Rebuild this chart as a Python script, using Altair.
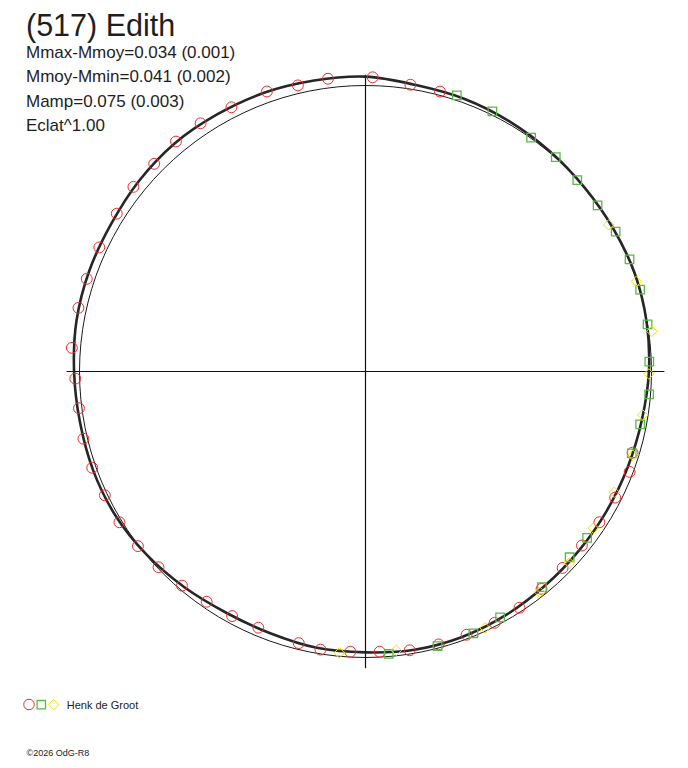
import altair as alt
import pandas as pd

# ---------------- data ----------------
# polar lightcurve: phase angle (deg, clockwise from top) and radius relative to reference circle
curve_phase = [0, 10, 20, 30, 40, 50, 60, 70, 80, 90, 100, 110, 120, 130, 140, 150, 160, 170,
               180, 190, 200, 210, 220, 230, 240, 250, 260, 270, 280, 290, 300, 310, 320, 330, 340, 350]
curve_rel = [1.031, 1.017, 1.014, 1.009, 1.004, 1.000, 1.000, 1.002, 0.998, 0.991, 0.981, 0.976,
             0.974, 0.974, 0.977, 0.983, 0.988, 0.988, 0.982, 0.981, 0.974, 0.974, 0.985, 0.998,
             1.009, 1.013, 1.014, 1.019, 1.026, 1.028, 1.028, 1.035, 1.040, 1.038, 1.037, 1.033]

red_phase = [1.4, 8.9, 14.9, 352.7, 346.7, 340.6, 333.1, 326.4, 320.5, 314.5, 308.5, 302.4, 295.0,
             288.4, 282.5, 274.6, 268.6, 262.7, 256.6, 250.6, 244.6, 238.5, 232.5, 226.6, 220.6,
             214.6, 208.6, 202.7, 193.8, 189.2, 183.1, 177.1, 171.0, 165.0, 159.0, 152.8, 146.9,
             141.0, 134.9, 128.8, 122.8, 116.8, 110.8, 106.9]
red_rel = [1.029, 1.015, 1.013, 1.032, 1.028, 1.038, 1.036, 1.042, 1.042, 1.036, 1.037, 1.030, 1.027,
           1.027, 1.028, 1.030, 1.015, 1.010, 1.014, 1.013, 1.009, 1.009, 1.003, 0.996, 0.986,
           0.978, 0.974, 0.971, 0.978, 0.985, 0.981, 0.981, 0.987, 0.988, 0.986, 0.988, 0.986,
           0.978, 0.973, 0.971, 0.973, 0.978, 0.988, 0.976]

green_phase = [18.3, 26.0, 35.3, 41.6, 47.9, 54.4, 60.8, 67.0, 73.4, 80.5, 88.0, 94.6, 100.9,
               107.1, 126.9, 132.3, 140.7, 151.3, 157.6, 165.3, 175.3]
green_rel = [1.017, 1.012, 1.002, 1.002, 0.998, 0.998, 1.002, 1.003, 1.002, 1.000, 0.993, 0.995,
             0.978, 0.974, 0.969, 0.965, 0.974, 0.980, 0.990, 0.993, 0.991]

yellow_phase = [58.9, 71.6, 82.0, 90.5, 98.9, 107.4, 115.9, 124.5, 133.2, 141.7, 155.0, 173.7, 185.3]
yellow_rel = [0.993, 0.998, 1.011, 0.991, 0.981, 0.980, 0.967, 0.967, 0.978, 0.983, 0.989, 0.981, 0.988]

axis_h_x = [-1.045, 1.045]
axis_v_y = [-1.038, 1.038]

title_text = "(517) Edith"
stats_lines = ["Mmax-Mmoy=0.034 (0.001)", "Mmoy-Mmin=0.041 (0.002)", "Mamp=0.075 (0.003)", "Eclat^1.00"]
observer = "Henk de Groot"
copyright_text = "©2026 OdG-R8"

# ---------------- layout ----------------
W, H = 660, 750
R_PX = 286.0          # reference circle radius in px
CX, CY = 357.5, 363.5  # centre in plot coordinates
xs = alt.Scale(domain=[-CX / R_PX, (W - CX) / R_PX], nice=False, zero=False)
ys = alt.Scale(domain=[-(H - CY) / R_PX, CY / R_PX], nice=False, zero=False)

RED, GREEN, YELLOW = "#ee2b2b", "#58b848", "#f2e000"
FONT = "Liberation Sans"


def polar(df):
    return (alt.Chart(df)
            .transform_calculate(px="datum.r * sin(datum.phase * PI / 180)",
                                 py="datum.r * cos(datum.phase * PI / 180)"))


def enc(ch, **kw):
    return ch.encode(x=alt.X("px:Q", scale=xs, axis=None),
                     y=alt.Y("py:Q", scale=ys, axis=None), **kw)


curve_df = pd.DataFrame({"phase": curve_phase, "r": curve_rel})
red_df = pd.DataFrame({"phase": red_phase, "r": red_rel})
green_df = pd.DataFrame({"phase": green_phase, "r": green_rel})
yellow_df = pd.DataFrame({"phase": yellow_phase, "r": yellow_rel})

hline = alt.Chart(pd.DataFrame({"x": axis_h_x, "y": [0.0, 0.0]})).mark_line(
    color="#111", strokeWidth=1.2).encode(
    x=alt.X("x:Q", scale=xs, axis=None), y=alt.Y("y:Q", scale=ys, axis=None))
vline = alt.Chart(pd.DataFrame({"x": [0.0, 0.0], "y": axis_v_y})).mark_line(
    color="#111", strokeWidth=1.2).encode(
    x=alt.X("x:Q", scale=xs, axis=None), y=alt.Y("y:Q", scale=ys, axis=None), order="y:Q")

ref_circle = alt.Chart(pd.DataFrame({"x": [0.0], "y": [0.0]})).mark_point(
    shape="circle", size=(2 * R_PX) ** 2, filled=False, strokeWidth=1, color="#1a1a1a", opacity=1
).encode(x=alt.X("x:Q", scale=xs, axis=None), y=alt.Y("y:Q", scale=ys, axis=None))

curve = enc(polar(curve_df).mark_line(interpolate="cardinal-closed", strokeWidth=2.6, color="#262626"),
            order="phase:Q")

red_pts = enc(polar(red_df).mark_point(shape="circle", size=118, filled=False, strokeWidth=1,
                                       color=RED, opacity=1))
green_pts = enc(polar(green_df).mark_point(shape="square", size=72, filled=False, strokeWidth=1.3,
                                           color=GREEN, opacity=1))
yellow_pts = enc(polar(yellow_df).mark_point(shape="diamond", size=110, filled=False, strokeWidth=1,
                                             color=YELLOW, opacity=1))

one = pd.DataFrame({"t": [0]})
title = alt.Chart(pd.DataFrame({"t": [title_text]})).mark_text(
    align="left", baseline="alphabetic", font=FONT, fontSize=30.5, color="#1e1e1e"
).encode(x=alt.value(18), y=alt.value(28), text="t:N")
stats = alt.Chart(pd.DataFrame({"t": ["\n".join(stats_lines)]})).mark_text(
    align="left", baseline="alphabetic", font=FONT, fontSize=17, color="#1e1e1e",
    lineBreak="\n", lineHeight=24.5
).encode(x=alt.value(18), y=alt.value(49.5), text="t:N")

leg_red = alt.Chart(one).mark_point(shape="circle", size=110, filled=False, strokeWidth=1,
                                    color=RED, opacity=1).encode(x=alt.value(21), y=alt.value(696.5))
leg_green = alt.Chart(one).mark_point(shape="square", size=70, filled=False, strokeWidth=1.3,
                                      color=GREEN, opacity=1).encode(x=alt.value(33.3), y=alt.value(696.7))
leg_yellow = alt.Chart(one).mark_point(shape="diamond", size=110, filled=False, strokeWidth=1,
                                       color=YELLOW, opacity=1).encode(x=alt.value(45.7), y=alt.value(696.7))
leg_text = alt.Chart(pd.DataFrame({"t": [observer]})).mark_text(
    align="left", baseline="alphabetic", font=FONT, fontSize=11, color="#222"
).encode(x=alt.value(58.7), y=alt.value(700.5), text="t:N")
copy_text = alt.Chart(pd.DataFrame({"t": [copyright_text]})).mark_text(
    align="left", baseline="alphabetic", font=FONT, fontSize=9, color="#222"
).encode(x=alt.value(18.5), y=alt.value(748), text="t:N")

chart = alt.layer(
    hline, vline, ref_circle, curve, red_pts, green_pts, yellow_pts,
    title, stats, leg_red, leg_green, leg_yellow, leg_text, copy_text
).properties(
    width=W, height=H, padding=0, autosize=alt.AutoSizeParams(type="none"), background="white"
).configure_view(strokeWidth=0)

chart.save("out.html", embed_options={"renderer": "svg", "actions": False})
